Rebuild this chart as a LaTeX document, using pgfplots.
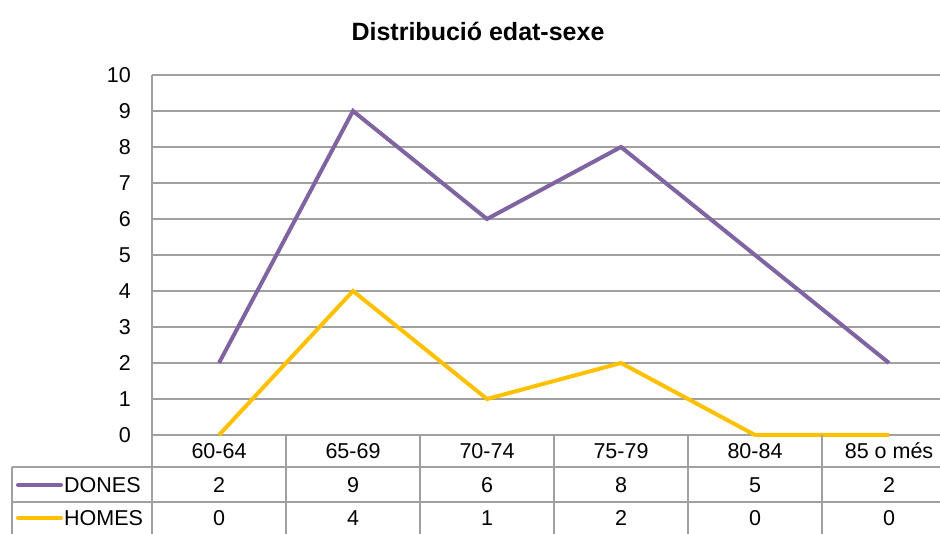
\documentclass[border=0pt]{standalone}
\usepackage{pgfplots}
\pgfplotsset{compat=1.18}
\usepackage{pgfplotstable}
\usepackage{fontspec}
\setmainfont{Liberation Sans}
\definecolor{dones}{RGB}{128,100,162}
\definecolor{homes}{RGB}{255,192,0}
\definecolor{gridcol}{RGB}{160,160,160}
\pgfplotstableread{
x dones homes
0 2 0
1 9 4
2 6 1
3 8 2
4 5 0
5 2 0
}\data
\begin{document}
\begin{tikzpicture}[x=1pt,y=1pt]
\path[use as bounding box] (0,0) rectangle (940,534);
\node[font=\fontsize{25}{30}\selectfont\bfseries, inner sep=0pt, anchor=base] at (478,493) {Distribució edat-sexe};
\begin{axis}[
  at={(152pt,99pt)}, anchor=south west,
  scale only axis, width=788pt, height=360pt,
  xmin=-0.5, xmax=5.3806, ymin=0, ymax=10,
  clip=false,
  axis lines*=left,
  axis line style={draw=gridcol, line width=2.2pt},
  ymajorgrids, grid style={draw=gridcol, line width=2.2pt},
  major tick length=0pt,
  xtick={0,...,5},
  xticklabels={60-64,65-69,70-74,75-79,80-84,85 o més},
  ytick={0,...,10},
  /pgf/number format/assume math mode=true,
  ticklabel style={font=\fontsize{21.5}{25}\selectfont, inner sep=0pt},
  xticklabel style={anchor=center, yshift=-16pt},
  yticklabel style={anchor=east, xshift=-21pt},
]
\addplot[color=dones, line width=4pt] table[x=x, y=dones] {\data};
\addplot[color=homes, line width=4pt] table[x=x, y=homes] {\data};
\addplot[draw=none, nodes near coords, nodes near coords align={center}, point meta=explicit,
  every node near coord/.append style={font=\fontsize{21.5}{25}\selectfont, inner sep=0pt, text=black}]
  table[x=x, y expr=-1.389, meta=dones] {\data};
\addplot[draw=none, nodes near coords, nodes near coords align={center}, point meta=explicit,
  every node near coord/.append style={font=\fontsize{21.5}{25}\selectfont, inner sep=0pt, text=black}]
  table[x=x, y expr=-2.306, meta=homes] {\data};
\end{axis}
% data table grid
\draw[gridcol, line width=2.2pt] (12,67) -- (940,67);
\draw[gridcol, line width=2.2pt] (12,32) -- (940,32);
\draw[gridcol, line width=2.2pt] (12,67) -- (12,0);
\foreach \xx in {152,286,420,554,688,822} {
  \draw[gridcol, line width=2.2pt] (\xx,99) -- (\xx,0);
}
% row headers with legend keys
\draw[dones, line width=4pt, line cap=round] (18,49) -- (61,49);
\node[anchor=west, inner sep=0pt, font=\fontsize{21.5}{25}\selectfont] at (64,49) {DONES};
\draw[homes, line width=4pt, line cap=round] (18,16) -- (61,16);
\node[anchor=west, inner sep=0pt, font=\fontsize{21.5}{25}\selectfont] at (64,16) {HOMES};
\end{tikzpicture}
\end{document}
